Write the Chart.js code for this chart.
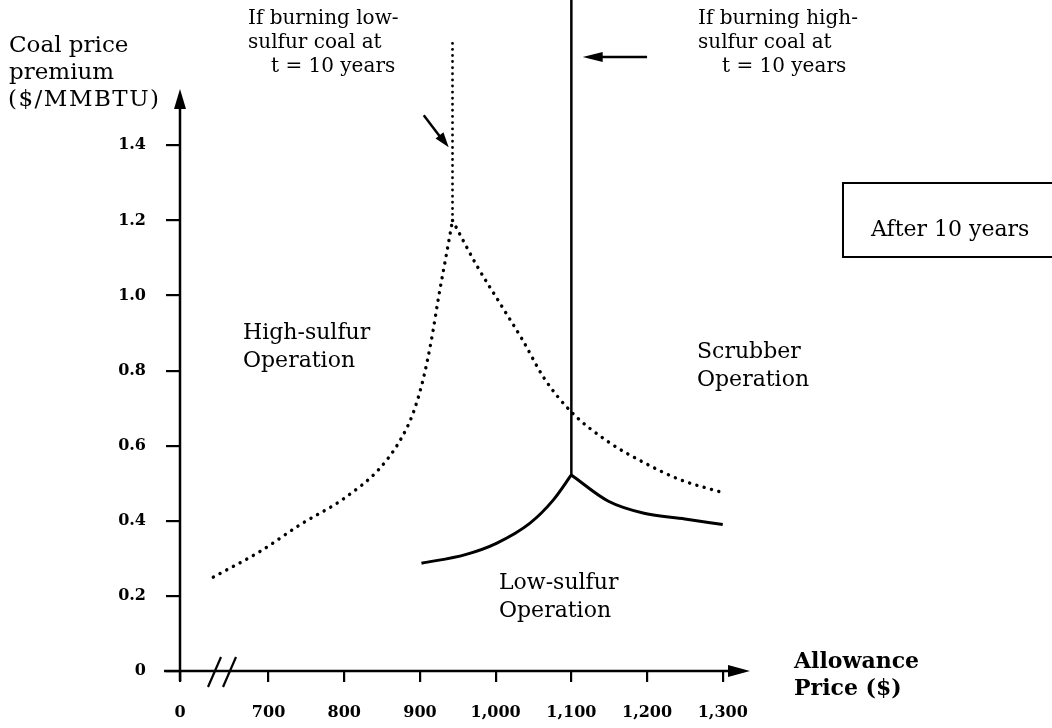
<!DOCTYPE html>
<html>
<head>
<meta charset="utf-8">
<script src="https://cdn.jsdelivr.net/npm/chart.js@4.4.1/dist/chart.umd.min.js"></script>
<style>
  body { margin: 0; background: #fff; }
  #wrap { width: 1052px; height: 728px; }
</style>
</head>
<body>
<div id="wrap"><canvas id="premiumChart" width="1052" height="728"></canvas></div>
<script>
// axis ticks
const xTicks = [0, 700, 800, 900, 1000, 1100, 1200, 1300];
const yTicks = [0, 0.2, 0.4, 0.6, 0.8, 1.0, 1.2, 1.4];
const xBreakAt = 583; // axis value where the "0" sits (axis is broken before 700)

// high-sulfur / low-sulfur boundary (dotted)
const highLeftX = [627, 690, 742, 800, 847, 874, 891, 904, 915, 925, 935, 943];
const highLeftY = [0.25, 0.32, 0.39, 0.46, 0.54, 0.615, 0.687, 0.775, 0.88, 1.0, 1.11, 1.2];
const highRightX = [943, 975, 1007, 1036, 1064, 1100, 1149, 1196, 1243, 1300];
const highRightY = [1.2, 1.08, 0.975, 0.88, 0.78, 0.69, 0.61, 0.555, 0.51, 0.475];

// low-sulfur / scrubber boundary (solid)
const lowLeftX = [902, 960, 1001, 1045, 1076, 1100];
const lowLeftY = [0.287, 0.31, 0.34, 0.393, 0.455, 0.522];
const lowRightX = [1100, 1149, 1196, 1250, 1300];
const lowRightY = [0.522, 0.452, 0.42, 0.405, 0.39];

// switch prices at t = 10 years (vertical lines)
const lowSwitchX = [943, 943];
const lowSwitchY = [1.2, 1.68];
const highSwitchX = [1100, 1100];
const highSwitchY = [0.522, 1.79];

function pts(xs, ys) {
    return xs.map((x, i) => ({ x: x, y: ys[i] }));
}

const dotted = {
    borderColor: "#000",
    borderWidth: 3.4,
    borderDash: [0.1, 7.5],
    borderCapStyle: "round",
    pointRadius: 0,
    cubicInterpolationMode: "monotone"
};
const solid = {
    borderColor: "#000",
    borderWidth: 3,
    pointRadius: 0,
    cubicInterpolationMode: "monotone"
};

const serif = "'DejaVu Serif', 'Liberation Serif', serif";

function arrowHead(ctx, x, y, angle, len, half) {
    ctx.save();
    ctx.translate(x, y);
    ctx.rotate(angle);
    ctx.beginPath();
    ctx.moveTo(0, 0);
    ctx.lineTo(-len, -half);
    ctx.lineTo(-len, half);
    ctx.closePath();
    ctx.fill();
    ctx.restore();
}

function lines(ctx, text, x, y, step) {
    text.forEach((t, i) => ctx.fillText(t, x, y + i * step));
}

// axes with arrows, the break mark, labels and callouts
const annotate = {
    id: "annotate",
    afterDraw(chart) {
        const ctx = chart.ctx;
        const xs = chart.scales.x, ys = chart.scales.y;
        const x0 = xs.getPixelForValue(xBreakAt);
        const y0 = ys.getPixelForValue(0);
        const xEnd = xs.right;
        const yTop = ys.getPixelForValue(1.55);

        ctx.save();
        ctx.strokeStyle = "#000";
        ctx.fillStyle = "#000";
        ctx.lineWidth = 2.5;

        // x axis
        ctx.beginPath();
        ctx.moveTo(x0 - 16, y0);
        ctx.lineTo(xEnd - 10, y0);
        ctx.stroke();
        arrowHead(ctx, xEnd, y0, 0, 22, 6);

        // y axis
        ctx.beginPath();
        ctx.moveTo(x0, y0 + 10);
        ctx.lineTo(x0, yTop + 10);
        ctx.stroke();
        arrowHead(ctx, x0, yTop, -Math.PI / 2, 20, 6);

        // axis break "//"
        ctx.lineWidth = 2.2;
        [0, 15].forEach(dx => {
            ctx.beginPath();
            ctx.moveTo(x0 + 28 + dx, y0 + 16);
            ctx.lineTo(x0 + 41 + dx, y0 - 14);
            ctx.stroke();
        });

        // callout arrows
        ctx.lineWidth = 2.5;
        const ax1 = xs.getPixelForValue(905), ay1 = ys.getPixelForValue(1.48);
        const ax2 = xs.getPixelForValue(938), ay2 = ys.getPixelForValue(1.395);
        ctx.beginPath();
        ctx.moveTo(ax1, ay1);
        ctx.lineTo(ax2 - 6, ay2 - 7);
        ctx.stroke();
        arrowHead(ctx, ax2, ay2, Math.atan2(ay2 - ay1, ax2 - ax1), 15, 5);

        const bx1 = xs.getPixelForValue(1200), by = ys.getPixelForValue(1.635);
        const bx2 = xs.getPixelForValue(1115);
        ctx.beginPath();
        ctx.moveTo(bx1, by);
        ctx.lineTo(bx2 + 10, by);
        ctx.stroke();
        arrowHead(ctx, bx2, by, Math.PI, 20, 5);

        // "After 10 years" box
        ctx.lineWidth = 2;
        ctx.strokeRect(843, 183, 230, 74);

        // texts
        ctx.textBaseline = "middle";
        ctx.textAlign = "left";
        ctx.font = "23px " + serif;
        lines(ctx, ["Coal price", "premium"], 9, 46, 27);
        ctx.letterSpacing = "1.5px";
        ctx.fillText("($/MMBTU)", 8, 100);
        ctx.letterSpacing = "0px";
        ctx.font = "20px " + serif;
        lines(ctx, ["If burning low-", "sulfur coal at"], 248, 19, 24);
        ctx.fillText("t = 10 years", 271, 67);
        lines(ctx, ["If burning high-", "sulfur coal at"], 698, 19, 24);
        ctx.fillText("t = 10 years", 722, 67);
        ctx.font = "22px " + serif;
        lines(ctx, ["High-sulfur", "Operation"], 243, 333, 28);
        lines(ctx, ["Scrubber", "Operation"], 697, 352, 28);
        lines(ctx, ["Low-sulfur", "Operation"], 499, 583, 28);
        ctx.fillText("After 10 years", 871, 230);
        ctx.font = "bold 22px " + serif;
        lines(ctx, ["Allowance", "Price ($)"], 794, 662, 27);
        ctx.restore();
    }
};

new Chart(document.getElementById("premiumChart"), {
    type: "line",
    data: {
        datasets: [
            Object.assign({ data: pts(highLeftX, highLeftY) }, dotted),
            Object.assign({ data: pts(highRightX, highRightY) }, dotted),
            Object.assign({ data: pts(lowSwitchX, lowSwitchY) }, dotted, { borderWidth: 2.8, borderDash: [0.1, 6] }),
            Object.assign({ data: pts(lowLeftX, lowLeftY) }, solid),
            Object.assign({ data: pts(lowRightX, lowRightY) }, solid),
            Object.assign({ data: pts(highSwitchX, highSwitchY) }, solid, { borderWidth: 2.5 })
        ]
    },
    options: {
        responsive: false,
        animation: false,
        layout: { autoPadding: false, padding: { left: 0, right: 302, top: 0, bottom: 0 } },
        plugins: {
            legend: { display: false },
            tooltip: { enabled: false }
        },
        scales: {
            x: {
                type: "linear",
                min: xBreakAt,
                max: 1336,
                afterBuildTicks: s => { s.ticks = xTicks.map(v => ({ value: v === 0 ? xBreakAt : v })); },
                afterFit: s => { s.height = 57; },
                border: { display: false },
                grid: { drawOnChartArea: false, tickLength: 11, color: "#000", lineWidth: 2.2 },
                ticks: {
                    autoSkip: false,
                    maxRotation: 0,
                    padding: 21,
                    color: "#000",
                    font: { family: serif, size: 16, weight: "bold" },
                    callback: v => v === xBreakAt ? "0" : v.toLocaleString("en-US")
                }
            },
            y: {
                min: 0,
                max: 1.787,
                afterBuildTicks: s => { s.ticks = yTicks.map(v => ({ value: v })); },
                afterFit: s => { s.width = 180; s.paddingTop = 0; s.paddingBottom = 0; },
                border: { display: false },
                grid: { drawOnChartArea: false, tickLength: 14, color: "#000", lineWidth: 2.2 },
                ticks: {
                    padding: 20,
                    color: "#000",
                    font: { family: serif, size: 16, weight: "bold" },
                    callback: v => v === 0 ? "0" : v.toFixed(1)
                }
            }
        }
    },
    plugins: [annotate]
});
</script>
</body>
</html>
